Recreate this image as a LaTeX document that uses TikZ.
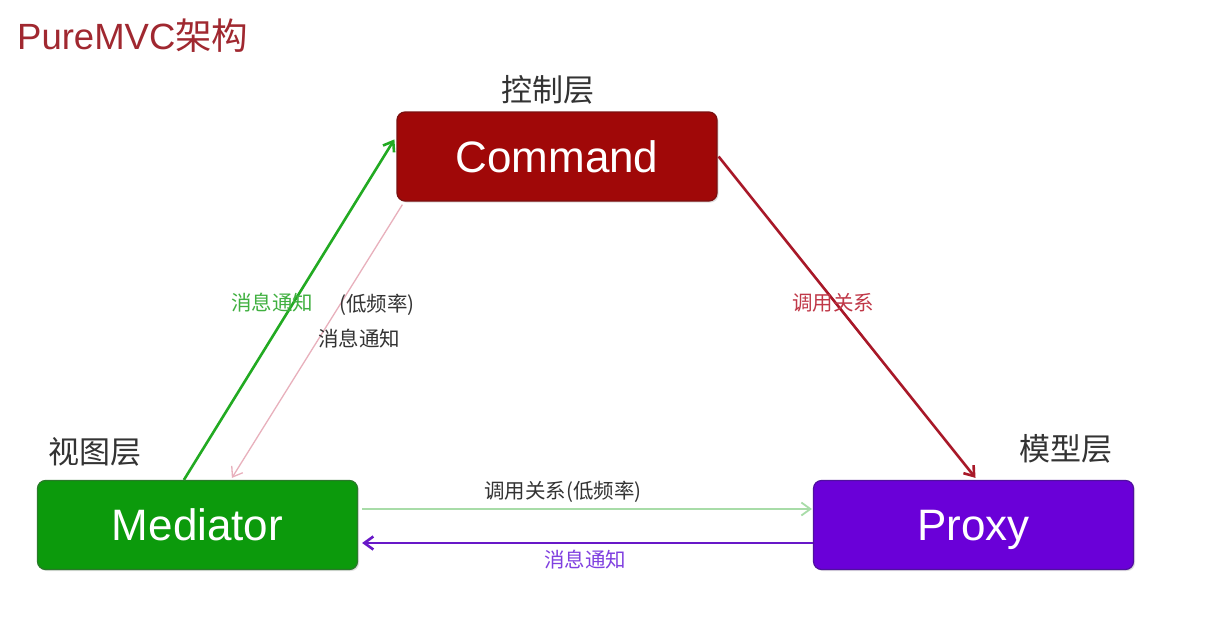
\documentclass[tikz,border=0pt]{standalone}
\usepackage{fontspec}
\setmainfont{Liberation Sans}
\newfontfamily\cjk{Noto Sans CJK SC}
\usetikzlibrary{arrows.meta,shadows}
\definecolor{cmdred}{HTML}{A00808}
\definecolor{cmdborder}{HTML}{7A1010}
\definecolor{medgreen}{HTML}{0C9A0C}
\definecolor{medborder}{HTML}{2A7A2A}
\definecolor{proxpurple}{HTML}{6A00D8}
\definecolor{proxborder}{HTML}{5010A0}
\definecolor{titlered}{HTML}{A02830}
\definecolor{arrgreen}{HTML}{22AA22}
\definecolor{arrred}{HTML}{A81828}
\definecolor{arrpink}{HTML}{E8B0BC}
\definecolor{arrlightgreen}{HTML}{A8DCA8}
\definecolor{arrpurple}{HTML}{6818C8}
\definecolor{lblgreen}{HTML}{40B040}
\definecolor{lblred}{HTML}{C03848}
\definecolor{lblpurple}{HTML}{8040E0}
\definecolor{lblgray}{HTML}{333333}
\tikzset{
  layerbox/.style={rectangle, rounded corners=8pt, minimum width=320pt, minimum height=89pt,
    line width=1.2pt, text=white, font=\fontsize{44}{44}\selectfont, inner sep=0pt,
    text height=31.5pt, text depth=0pt,
    drop shadow={opacity=0.25, shadow xshift=1.5pt, shadow yshift=-1.5pt}},
  layerlabel/.style={text=lblgray, font=\cjk\fontsize{31}{31}\selectfont, inner sep=0pt},
  smalllabel/.style={font=\cjk\fontsize{20.5}{20.5}\selectfont, inner sep=0pt},
  arrowtip/.style={-{Straight Barb[length=9pt,width=13pt]}},
}
\begin{document}
\begin{tikzpicture}[x=1pt,y=-1pt]
\useasboundingbox (0,0) rectangle (1226,634);
\fill[white] (0,0) rectangle (1226,634);

\node[anchor=west, text=titlered, font=\fontsize{36.5}{36.5}\selectfont, inner sep=0pt] (title) at (17,36) {PureMVC{\cjk 架构}};

\node[layerbox, fill=cmdred, draw=cmdborder] (cmd) at (557,156.5) {Command};
\node[layerbox, fill=medgreen, draw=medborder] (med) at (197.5,525) {Mediator};
\node[layerbox, fill=proxpurple, draw=proxborder] (prox) at (973.5,525) {Proxy};

\node[layerlabel] (cmdlbl) at (548,90) {控制层};
\node[layerlabel] (medlbl) at (95,452) {视图层};
\node[layerlabel] (proxlbl) at (1066,449) {模型层};

% Mediator -> Command (green)
\draw[arrowtip, arrgreen, line width=2.6pt] ([xshift=147pt]med.north west) -- ([yshift=-28pt,xshift=-2pt]cmd.north west);
% Command -> Mediator (pink, low frequency)
\draw[arrowtip, arrpink, line width=1.3pt] ([xshift=6pt,yshift=-3pt]cmd.south west) -- ([xshift=195pt,yshift=2pt]med.north west);
% Command -> Proxy (dark red)
\draw[arrowtip, arrred, line width=2.6pt] ([xshift=1pt]cmd.east) -- ([xshift=2pt,yshift=2pt]prox.north);
% Mediator -> Proxy (light green)
\draw[arrowtip, arrlightgreen, line width=1.8pt] ([xshift=4pt,yshift=16pt]med.east) -- ([xshift=-1pt,yshift=16pt]prox.west);
% Proxy -> Mediator (purple)
\draw[arrowtip, arrpurple, line width=2.6pt] ([yshift=-18pt]prox.west) -- ([xshift=4pt,yshift=-18pt]med.east);

\node[smalllabel, text=lblgreen] (l1) at (272,303) {消息通知};
\node[smalllabel, text=lblgray] (l2) at (377,305) {(低频率)};
\node[smalllabel, text=lblgray] (l3) at (359,339) {消息通知};
\node[smalllabel, text=lblred] (l4) at (833,303) {调用关系};
\node[smalllabel, text=lblgray] (l5) at (563,492) {调用关系(低频率)};
\node[smalllabel, text=lblpurple] (l6) at (585,560) {消息通知};
\end{tikzpicture}
\end{document}
